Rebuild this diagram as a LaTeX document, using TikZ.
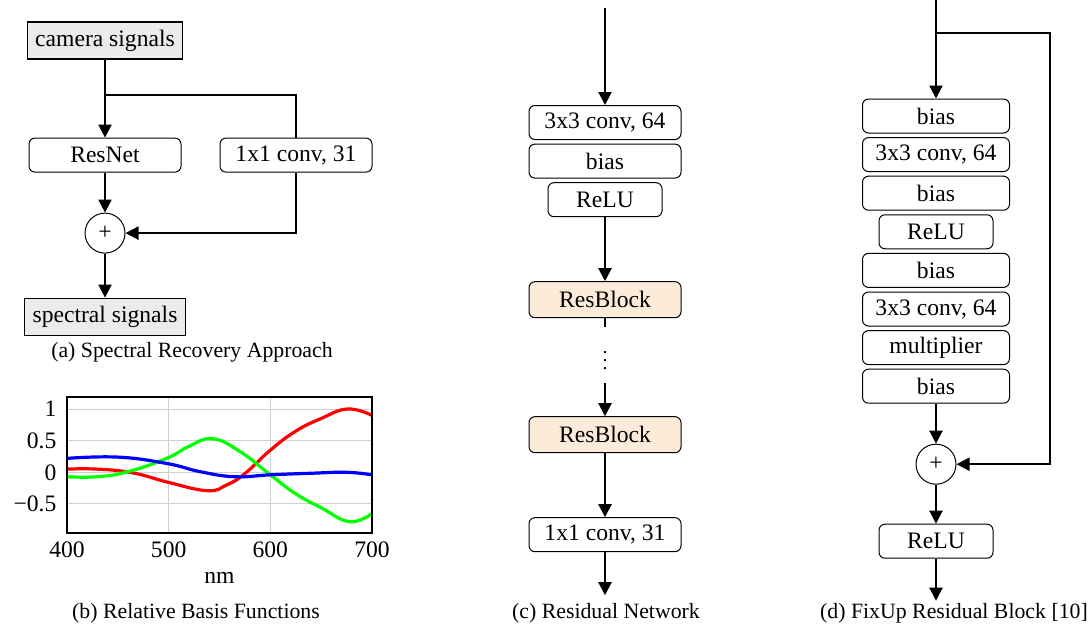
\documentclass[tikz,border=0pt]{standalone}
\usepackage{fontspec}
\setmainfont{Liberation Serif}
\usepackage{tikz}
\usetikzlibrary{arrows.meta,positioning,calc}
\definecolor{sigfill}{HTML}{EBEBEB}
\definecolor{softpeach}{HTML}{FDEBD9}
\definecolor{gridgray}{HTML}{CFCFCF}
\newcommand{\blockfont}{\fontsize{11.8}{14}\selectfont}
\newcommand{\capfont}{\fontsize{10.9}{13}\selectfont}

\begin{document}
\begin{tikzpicture}[
    x=0.5pt,y=-0.5pt,
    blk/.style={draw=black,line width=0.5pt,rounded corners=3pt,fill=white,minimum width=76pt,minimum height=17pt,inner sep=1pt,font=\blockfont},
    fixblk/.style={blk,minimum width=73.5pt},
    narrow/.style={blk,minimum width=57pt},
    resblk/.style={blk,fill=softpeach,minimum height=18pt},
    sig/.style={draw=black,line width=0.6pt,fill=sigfill,minimum height=18.5pt,inner xsep=4pt,font=\blockfont},
    sumop/.style={circle,draw=black,line width=0.5pt,fill=white,minimum size=20pt,inner sep=0pt,font=\blockfont},
    conn/.style={line width=1.1pt},
    flow/.style={conn,-{Triangle[length=6.5pt,width=6.5pt]}},
    captext/.style={font=\capfont,inner sep=0pt},
    ticklbl/.style={font=\blockfont,inner sep=0pt},
    basis/.style={line width=1.6pt,smooth,tension=0.75},
    node distance=1.8pt
  ]
  \useasboundingbox (0,0) rectangle (1089,632);

  % (a) spectral recovery
  \node[sig] (cam) at (105,40.5) {camera signals};
  \node[blk,below=39pt of cam] (resnet) {ResNet};
  \node[blk,right=19pt of resnet] (proj) {1x1 conv, 31};
  \node[sumop,below=20pt of resnet] (suma) {+};
  \node[sig,below=22pt of suma] (spec) {spectral signals};
  \coordinate (splita) at ($(cam.south)!0.45!(resnet.north)$);
  \draw[flow] (cam) -- (resnet);
  \draw[conn] (splita) -| (proj.north);
  \draw[flow] (proj.south) |- (suma.east);
  \draw[flow] (resnet) -- (suma);
  \draw[flow] (suma) -- (spec);
  \node[captext] (capa) at (192,352) {(a) Spectral Recovery Approach};

  % (b) basis functions
  \begin{scope}[shift={(-339.67,472.3)},x=0.50833pt,y=31.65pt]
    \foreach \gx in {500,600}
      \draw[gridgray,line width=0.5pt] (\gx,-0.96) -- (\gx,1.19);
    \foreach \gy in {-0.5,0,0.5,1}
      \draw[gridgray,line width=0.5pt] (400,\gy) -- (700,\gy);
    \begin{scope}
      \clip (400,-0.96) rectangle (700,1.19);
      \draw[red,basis] plot coordinates {(400,0.05) (430,0.05) (465,-0.01) (500,-0.16) (538,-0.29) (557,-0.2) (575,-0.02) (600,0.35) (625,0.65) (650,0.85) (676,1.0) (700,0.9)};
      \draw[green,basis] plot coordinates {(400,-0.07) (430,-0.07) (460,0.01) (498,0.22) (520,0.41) (543,0.53) (570,0.33) (600,-0.04) (625,-0.34) (650,-0.56) (678,-0.78) (700,-0.65)};
      \draw[blue,basis] plot coordinates {(400,0.22) (450,0.24) (498,0.14) (531,0.01) (565,-0.07) (600,-0.04) (640,-0.015) (675,0.0) (700,-0.04)};
    \end{scope}
    \draw[line width=0.6pt] (400,-0.96) rectangle (700,1.19);
    \foreach \tx in {400,500,600,700}
      \node[ticklbl] (xt\tx) at (\tx,-1.227) {\tx};
    \node[ticklbl,anchor=east] (yt1) at (390,1) {1};
    \node[ticklbl,anchor=east] (yt2) at (390,0.5) {0.5};
    \node[ticklbl,anchor=east] (yt3) at (390,0) {0};
    \node[ticklbl,anchor=east] (yt4) at (390,-0.5) {−0.5};
    \node[ticklbl] (xlab) at (550,-1.67) {nm};
  \end{scope}
  \node[captext] (capb) at (196,613) {(b) Relative Basis Functions};

  % (c) residual network
  \coordinate (cin) at (605,8);
  \node[blk] (c1) at (605,122.5) {3x3 conv, 64};
  \node[blk,below=of c1] (c2) {bias};
  \node[narrow,below=of c2] (c3) {ReLU};
  \node[resblk,below=32pt of c3] (rb1) {ResBlock};
  \node[resblk,below=49pt of rb1] (rb2) {ResBlock};
  \node[blk,below=32pt of rb2] (c4) {1x1 conv, 31};
  \coordinate[below=21.5pt of c4] (cout);
  \draw[flow] (cin) -- (c1);
  \draw[flow] (c3) -- (rb1);
  \draw[flow] (rb1) -- node[pos=0.375,fill=white,minimum height=28pt,inner sep=0pt] (dots) {$\vdots$} (rb2);
  \draw[flow] (rb2) -- (c4);
  \draw[flow] (c4) -- (cout);
  \node[captext] (capc) at (606,613) {(c) Residual Network};

  % (d) fixup block
  \coordinate (din) at (936,0);
  \node[fixblk] (d1) at (936,116) {bias};
  \node[fixblk,below=of d1] (d2) {3x3 conv, 64};
  \node[fixblk,below=of d2] (d3) {bias};
  \node[narrow,below=of d3] (d4) {ReLU};
  \node[fixblk,below=of d4] (d5) {bias};
  \node[fixblk,below=of d5] (d6) {3x3 conv, 64};
  \node[fixblk,below=of d6] (d7) {multiplier};
  \node[fixblk,below=of d7] (d8) {bias};
  \node[sumop,below=20pt of d8] (sumd) {+};
  \node[narrow,below=19.5pt of sumd] (d9) {ReLU};
  \coordinate[below=21pt of d9] (dout);
  \coordinate (splitd) at (936,33);
  \coordinate (skipd) at (1050,33);
  \draw[flow] (din) -- (d1);
  \draw[flow] (splitd) -- (skipd) |- (sumd.east);
  \draw[flow] (d8) -- (sumd);
  \draw[flow] (sumd) -- (d9);
  \draw[flow] (d9) -- (dout);
  \node[captext] (capd) at (954,613) {(d) FixUp Residual Block [10]};
\end{tikzpicture}
\end{document}
